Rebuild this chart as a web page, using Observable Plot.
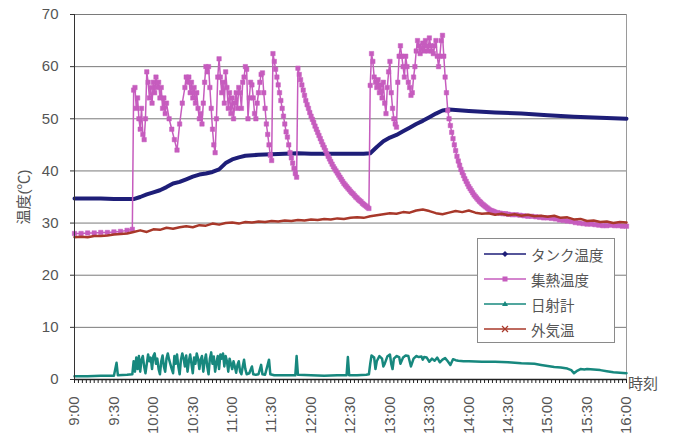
<!DOCTYPE html>
<html><head><meta charset="utf-8">
<script src="https://cdn.jsdelivr.net/npm/d3@7"></script>
<script src="https://cdn.jsdelivr.net/npm/@observablehq/plot@0.6"></script>
<style>
body{margin:0;background:#fff;}
#wrap{position:relative;width:681px;height:437px;overflow:hidden;font-family:"Liberation Sans","Noto Sans CJK JP",sans-serif;color:#555;}
#legend{position:absolute;left:477px;top:238px;width:138px;height:105px;border:1px solid #8a8a8a;background:#fff;box-sizing:border-box;}
.li{position:absolute;left:6px;height:20px;display:flex;align-items:center;font-size:14.5px;color:#555;font-family:"Noto Sans CJK JP",sans-serif;}
.li svg{margin-right:5px;}
#xlab{position:absolute;left:628px;top:372px;font-size:15px;color:#555;font-family:"Noto Sans CJK JP",sans-serif;}
</style></head><body><div id="wrap"></div>
<script>
// minutes after 9:00
const tickLabels = ["9:00","9:30","10:00","10:30","11:00","11:30","12:00","12:30","13:00","13:30","14:00","14:30","15:00","15:30","16:00"];
const xTicks = [0,30,60,90,120,150,180,210,240,270,300,330,360,390,420];
const yTicks = [0,10,20,30,40,50,60,70];
const seriesNames = ["タンク温度","集熱温度","日射計","外気温"];
const seriesColors = ["#1e1e78","#c65cbe","#17887e","#a8382a"];

const tank = [[0,34.7],[10,34.7],[20,34.7],[30,34.6],[40,34.6],[45,34.6],[50,35.0],[55,35.5],[60,35.9],[65,36.3],[70,36.9],[75,37.6],[80,37.9],[85,38.4],[90,38.9],[95,39.3],[100,39.5],[105,39.8],[110,40.3],[115,41.5],[120,42.2],[125,42.6],[130,42.9],[140,43.1],[150,43.2],[160,43.3],[170,43.4],[180,43.3],[190,43.3],[200,43.3],[210,43.3],[220,43.3],[225,43.4],[230,44.6],[235,45.7],[240,46.4],[245,46.9],[250,47.6],[255,48.3],[260,49.0],[265,49.6],[270,50.3],[275,51.0],[280,51.6],[285,51.8],[290,51.7],[300,51.5],[320,51.2],[340,51.0],[360,50.7],[380,50.4],[400,50.2],[420,50.0]];

const collector = [[0,28.0],[5,28.0],[10,28.1],[15,28.1],[20,28.2],[25,28.2],[30,28.3],[35,28.4],[40,28.6],[44,28.8],
[45,55.5],[46,56],[47,52],[48,54],[49,50],[50,48],[51,52],[52,47],[53,46],[54,50],[55,59],[56,57],[57,54],[58,56],[59,53],[60,57],[61,55],[62,58],[63,56],[64,57],[65,54],[66,56],[67,52],[68,54],[69,51],[70,53],[72,50],[74,48],[76,46],[78,44],[80,49],[82,53],[84,56],[85,58],[86,57],[87,58],[88,55],[89,57],[90,54],[91,56],[92,53],[93,55],[94,52],[95,50],[96,51],[97,49],[98,53],[99,57],[100,60],[101,59],[102,60],[103,56],[104,52],[105,48],[106,45],[107,43.5],[108,50],[109,58],[110,61.5],[111,58],[112,55],[113,57],[114,53],[115,59],[116,56],[117,52],[118,55],[119,51],[120,54],[121,50],[122,53],[123,55],[124,52],[125,56],[126,55],[127,52],[128,57],[129,58],[130,60],[131,59.5],[132,50],[133,54],[134,57],[135,56.5],[136,54],[137,51],[138,50],[139,53],[140,55],[141,57],[142,58.5],[143,58.8],[144,55],[145,52],[146,49],[147,47],[148,45],[149,43],[150,42],
[151,62.5],[152,61],[153,59.5],[154,58],[155,56.5],[156,55],[157,53.5],[158,52],[159,50.5],[160,49],[161,47.5],[162,46.5],[163,45],[164,43.5],[165,42.5],[166,41.5],[167,40.5],[168,39.5],[169,38.8],
[170,59.7],[171,58.5],[172,57.5],[173,56.5],[174,55.5],[175,54.5],[176,53.5],[177,52.7],[178,52],[179,51.2],[180,50.5],[181,49.9],[182,49.3],[183,48.6],[184,48],[185,47.4],[186,46.8],[187,46.2],[188,45.6],[189,45],[190,44.5],[191,43.9],[192,43.3],[193,42.8],[194,42.3],[195,41.8],[196,41.3],[197,40.8],[198,40.4],[199,40],[200,39.6],[201,39.2],[202,38.8],[203,38.4],[204,38],[205,37.6],[206,37.3],[207,37],[208,36.7],[209,36.4],[210,36.1],[211,35.8],[212,35.6],[213,35.3],[214,35],[215,34.8],[216,34.5],[217,34.3],[218,34.1],[219,33.8],[220,33.6],[221,33.4],[222,33.2],[223,33],[224,32.8],
[225,56.4],[226,62.5],[227,61],[228,58],[229,57],[230,56],[231,57.5],[232,55],[233,56.5],[234,54],[235,57],[236,53],[237,51],[238,56],[239,59],[240,61],[241,55],[242,52],[243,50],[244,49],[245,48.4],[246,57],[247,62],[248,64],[249,62],[250,60],[251,58],[252,62],[253,60],[254,57],[255,56],[256,54.5],[257,55],[258,58],[259,60],[260,63],[261,65],[262,64],[263,62.5],[264,63.5],[265,64.5],[266,63],[267,65],[268,64],[269,63],[270,65.5],[271,64],[272,63],[273,62.5],[274,64],[275,65],[276,62],[277,60],[278,62],[279,65],[280,66],[281,62],[282,58],[283,55],[284,51.6],
[285,50],[286,48.7],[287,47.4],[288,46.2],[289,45],[290,43.9],[291,42.8],[292,41.9],[293,41.1],[294,40.3],[295,39.7],[296,39.1],[297,38.5],[298,38],[299,37.5],[300,37],[301,36.6],[302,36.2],[303,35.8],[304,35.4],[305,35.1],[306,34.8],[307,34.5],[308,34.2],[309,34],[310,33.7],[311,33.5],[312,33.3],[313,33.1],[314,32.9],[315,32.7],[316,32.5],[317,32.4],[318,32.3],[319,32.2],[320,32.1],[322,32],[324,31.9],[326,31.8],[328,31.8],[330,31.7],[333,31.6],[336,31.6],[339,31.5],[342,31.4],[345,31.3],[348,31.3],[351,31.2],[354,31.1],[357,31],[360,31],[363,30.9],[366,30.8],[369,30.6],[372,30.5],[375,30.4],[378,30.3],[381,30.1],[384,30],[387,29.9],[390,29.8],[393,29.8],[396,29.7],[399,29.6],[402,29.5],[405,29.5],[408,29.6],[411,29.5],[414,29.5],[417,29.4],[420,29.4]];

const solar = [[0,0.6],[10,0.6],[20,0.7],[30,0.7],[32,3.2],[33,0.8],[40,0.9],[44,1.0],[45,3.5],[46,1.5],[47,4.2],[48,2.0],[49,4.5],[50,1.5],[51,3.8],[52,4.5],[53,2.5],[54,1.2],[55,3.0],[56,4.8],[57,3.5],[58,4.2],[59,2.0],[60,4.5],[61,5.0],[62,3.0],[63,4.0],[64,2.0],[65,1.0],[66,3.5],[67,4.6],[68,2.5],[69,1.5],[70,4.0],[71,5.0],[72,3.8],[74,2.0],[75,1.2],[76,4.5],[77,3.0],[78,4.8],[79,2.5],[80,1.0],[81,3.8],[82,5.0],[83,4.0],[84,2.5],[85,4.6],[86,1.5],[87,3.5],[88,4.8],[89,3.0],[90,1.2],[91,4.2],[92,3.0],[93,5.0],[94,4.0],[95,2.0],[96,3.8],[97,4.5],[98,1.5],[99,3.5],[100,4.8],[101,2.5],[102,1.0],[103,4.0],[104,5.2],[105,3.0],[106,4.4],[107,1.5],[108,3.2],[109,4.5],[110,2.0],[111,4.8],[112,4.0],[113,5.0],[114,2.5],[115,4.5],[116,3.5],[117,1.5],[118,4.0],[119,3.0],[120,2.0],[121,3.5],[122,2.5],[123,1.3],[124,2.8],[125,3.5],[126,1.5],[127,1.0],[128,2.5],[129,3.8],[130,2.0],[131,1.0],[133,1.2],[135,2.5],[136,1.0],[138,0.9],[140,1.0],[142,2.8],[143,1.0],[145,0.9],[148,3.8],[149,1.0],[152,0.8],[160,0.8],[168,0.8],[169,4.5],[170,0.9],[180,0.8],[190,0.7],[200,0.8],[207,0.8],[208,4.3],[209,0.8],[215,0.8],[222,0.9],[224,1.0],[225,3.0],[226,4.6],[228,4.2],[229,2.0],[230,3.5],[232,4.5],[234,4.0],[235,2.5],[236,3.0],[238,4.4],[240,4.8],[241,3.0],[242,2.0],[243,4.0],[245,4.5],[247,4.3],[248,3.0],[250,4.2],[252,4.6],[254,4.5],[255,3.5],[256,2.5],[258,4.0],[260,4.5],[262,4.3],[264,4.4],[265,3.8],[266,4.3],[268,4.2],[270,3.4],[272,4.0],[274,3.6],[276,4.2],[278,3.3],[280,3.8],[282,4.1],[284,3.5],[286,2.8],[288,3.9],[290,3.7],[292,3.6],[296,3.5],[300,3.5],[310,3.4],[320,3.4],[330,3.3],[340,3.1],[350,3.0],[355,2.8],[360,2.6],[365,2.4],[370,2.3],[375,2.1],[378,1.8],[380,1.2],[382,1.6],[385,2.0],[388,1.9],[390,2.0],[395,1.9],[400,1.8],[405,1.6],[410,1.4],[415,1.3],[420,1.2]];

const ambient = [[0,27.3],[5,27.4],[10,27.3],[15,27.5],[20,27.5],[25,27.6],[30,27.8],[35,27.9],[40,28.0],[45,28.3],[50,28.6],[55,28.3],[60,28.8],[65,28.7],[70,29.1],[75,28.9],[80,29.2],[85,29.4],[90,29.2],[95,29.6],[100,29.5],[105,29.9],[110,29.7],[115,30.0],[120,30.1],[125,29.9],[130,30.2],[135,30.1],[140,30.3],[145,30.2],[150,30.4],[155,30.3],[160,30.5],[165,30.4],[170,30.6],[175,30.5],[180,30.7],[185,30.6],[190,30.8],[195,30.7],[200,30.9],[205,30.8],[210,31.0],[215,31.1],[220,31.0],[225,31.3],[230,31.5],[235,31.7],[240,31.9],[245,31.8],[250,32.1],[255,32.0],[260,32.4],[265,32.6],[270,32.3],[275,31.9],[280,31.7],[285,32.0],[290,32.3],[295,32.1],[300,32.4],[305,32.0],[310,31.8],[315,31.9],[320,31.6],[325,31.8],[330,31.5],[335,31.7],[340,31.4],[345,31.6],[350,31.3],[355,31.4],[360,31.2],[365,31.4],[370,31.0],[375,31.1],[380,30.7],[385,30.8],[390,30.4],[395,30.5],[400,30.2],[405,30.3],[410,30.0],[415,30.2],[420,30.1]];

const minorTicks = d3.range(0, 421, 3);
const X = d => d[0], Y = d => d[1];

const chart = Plot.plot({
  width: 681, height: 437,
  marginLeft: 74, marginRight: 55, marginTop: 14, marginBottom: 58,
  style: {fontFamily: '"Liberation Sans","Noto Sans CJK JP",sans-serif', fontSize: "15px", color: "#555", background: "#fff", overflow: "visible"},
  x: {domain: [0, 420]},
  y: {domain: [0, 70]},
  marks: [
    Plot.ruleY(yTicks.filter(d => d > 0), {stroke: "#7a7a7a", strokeWidth: 1}),
    Plot.ruleX([420], {stroke: "#9a9a9a"}),
    Plot.axisY({ticks: yTicks, tickSize: 4, tickPadding: 12, stroke: "#333", label: "温度(℃)", labelAnchor: "center", labelOffset: 56, labelArrow: "none", fontSize: 15, fill: "#555"}),
    Plot.axisX({ticks: minorTicks, tickSize: 4, tickFormat: () => "", label: null, stroke: "#222"}),
    Plot.axisX({ticks: xTicks, tickSize: 0, tickPadding: 17, tickRotate: -90, tickFormat: d => tickLabels[xTicks.indexOf(d)], label: null, fontSize: 15, fill: "#555"}),
    Plot.line(tank, {x: X, y: Y, stroke: seriesColors[0], strokeWidth: 4}),
    Plot.line(collector, {x: X, y: Y, stroke: seriesColors[1], strokeWidth: 1.5}),
    Plot.dot(collector, {x: X, y: Y, symbol: "square", r: 2.5, fill: seriesColors[1], stroke: seriesColors[1], strokeWidth: 0.5}),
    Plot.line(solar, {x: X, y: Y, stroke: seriesColors[2], strokeWidth: 2.5}),
    Plot.line(ambient, {x: X, y: Y, stroke: seriesColors[3], strokeWidth: 2.5}),
    Plot.ruleX([0], {stroke: "#333"}),
    Plot.ruleY([0], {stroke: "#222", strokeWidth: 1.5})
  ]
});

const wrap = document.getElementById("wrap");
wrap.appendChild(chart);

const legend = document.createElement("div");
legend.id = "legend";
seriesNames.forEach((name, i) => {
  const row = document.createElement("div");
  row.className = "li";
  row.style.top = (5 + i * 25) + "px";
  const c = seriesColors[i];
  let marker = "";
  if (i === 0) marker = `<path d="M21 2 L24 5 L21 8 L18 5 Z" fill="${c}"/>`;
  else if (i === 1) marker = `<rect x="18.5" y="2.5" width="5" height="5" fill="${c}"/>`;
  else if (i === 2) marker = `<path d="M21 2 L24 7 L18 7 Z" fill="${c}"/>`;
  else marker = `<path d="M18 2 L24 8 M24 2 L18 8" stroke="${c}" stroke-width="1.2"/>`;
  row.innerHTML = `<svg width="42" height="10"><line x1="0" y1="5" x2="42" y2="5" stroke="${c}" stroke-width="1.5"/>${marker}</svg><span>${name}</span>`;
  legend.appendChild(row);
});
wrap.appendChild(legend);

const xl = document.createElement("div");
xl.id = "xlab";
xl.textContent = "時刻";
wrap.appendChild(xl);
</script></body></html>
